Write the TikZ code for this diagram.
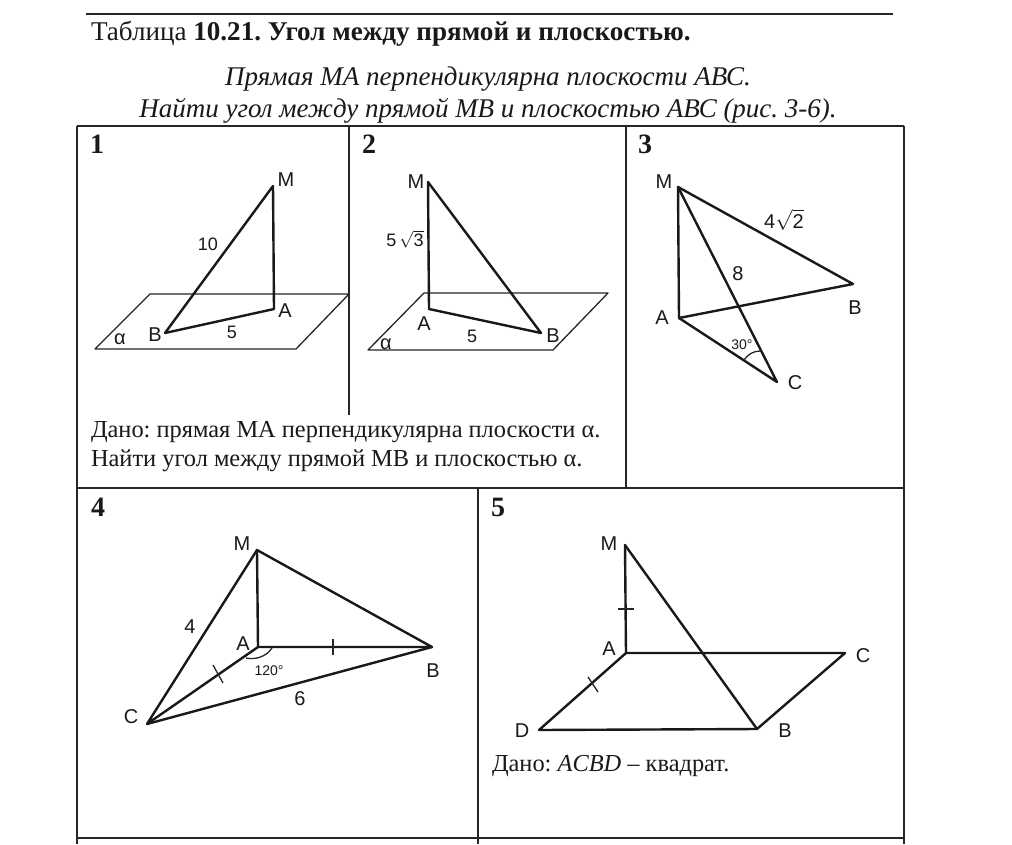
\documentclass[tikz,border=0pt]{standalone}
\usepackage{fontspec}
\setmainfont{Liberation Serif}
\newfontfamily\lblfont{Liberation Sans}
\newcommand{\fs}[1]{\fontsize{#1}{#1}\selectfont}
\frenchspacing
\tikzset{
  txt/.style={inner sep=0pt,outer sep=0pt,anchor=base west,text=black!90},
  ctr/.style={inner sep=0pt,outer sep=0pt,anchor=base,text=black!90},
  head/.style={txt,font=\fs{27.1}},
  ital/.style={ctr,font=\fs{27}\itshape},
  body/.style={txt,font=\fs{24.4}},
  num/.style={txt,font=\fs{28}\bfseries},
  lbl/.style={ctr,font=\lblfont\fs{20}},
  mid/.style={ctr,font=\lblfont\fs{18}},
  small/.style={ctr,font=\lblfont\fs{14}},
  frame/.style={draw=black!85,line width=1.6pt},
  edge/.style={draw=black!90,line width=2.4pt,line cap=round,line join=round},
  thin/.style={draw=black!85,line width=1.3pt,line join=round},
}
\begin{document}
\begin{tikzpicture}[x=1pt,y=-1pt]
\useasboundingbox (0,0) rectangle (1012,844);
\fill[white] (0,0) rectangle (1012,844);
% header
\coordinate (rl) at (86,14); \coordinate (rr) at (893,14);
\draw[frame] (rl) -- (rr);
\node[head] (title) at (91,40) {Таблица \textbf{10.21. Угол между прямой и плоскостью.}};
\node[ital] (sub1) at (488,85) {Прямая МА перпендикулярна плоскости АВС.};
\node[ital] (sub2) at (488,117) {Найти угол между прямой МВ и плоскостью АВС (рис. 3-6).};
% table
\coordinate (tl) at (77,126); \coordinate (tr) at (904,126);
\coordinate (ml) at (77,488); \coordinate (mr) at (904,488);
\coordinate (bl) at (77,838); \coordinate (br) at (904,838);
\coordinate (el) at (77,844); \coordinate (er) at (904,844);
\coordinate (v1t) at (349,126); \coordinate (v1b) at (349,415);
\coordinate (v2t) at (626,126); \coordinate (v2b) at (626,488);
\coordinate (v3t) at (478,488); \coordinate (v3b) at (478,844);
\draw[frame] (tl) -- (tr); \draw[frame] (ml) -- (mr); \draw[frame] (bl) -- (br);
\draw[frame] (tl) -- (el); \draw[frame] (tr) -- (er);
\draw[frame] (v1t) -- (v1b); \draw[frame] (v2t) -- (v2b); \draw[frame] (v3t) -- (v3b);
\node[num] (n1) at (90,153) {1};
\node[num] (n2) at (362,153) {2};
\node[num] (n3) at (638,153) {3};
\node[num] (n4) at (91,516) {4};
\node[num] (n5) at (491,516) {5};
% figure 1
\coordinate (p1a) at (150,294); \coordinate (p1b) at (349,294); \coordinate (p1c) at (296,349); \coordinate (p1d) at (95,349);
\draw[thin] (p1a) -- (p1b) -- (p1c) -- (p1d) -- cycle;
\coordinate (M1) at (273,186); \coordinate (A1) at (274,309); \coordinate (B1) at (165,333);
\draw[edge] (M1) -- (A1) -- (B1) -- cycle;
\node[lbl] (lM1) at (286,186) {M};
\node[lbl] (lA1) at (285,317) {A};
\node[lbl] (lB1) at (155,341) {B};
\node[mid] (l10) at (208,250) {10};
\node[mid] (l51) at (232,338) {5};
\node[lbl] (la1) at (120,344) {α};
% figure 2
\coordinate (p2a) at (424,293); \coordinate (p2b) at (608,293); \coordinate (p2c) at (553,350); \coordinate (p2d) at (368,350);
\draw[thin] (p2a) -- (p2b) -- (p2c) -- (p2d) -- cycle;
\coordinate (M2) at (428,182); \coordinate (A2) at (429,309); \coordinate (B2) at (541,333);
\draw[edge] (M2) -- (A2) -- (B2) -- cycle;
\node[lbl] (lM2) at (416,188) {M};
\node[lbl] (lA2) at (424,330) {A};
\node[lbl] (lB2) at (553,342) {B};
\node[mid] (l53) at (405,246) {5\,$\sqrt{\mbox{3}}$};
\node[mid] (l52) at (472,342) {5};
\node[lbl] (la2) at (386,349) {α};
\node[body] (d1) at (91,437) {Дано: прямая МА перпендикулярна плоскости α.};
\node[body] (d2) at (91,466) {Найти угол между прямой МВ и плоскостью α.};
% figure 3
\coordinate (M3) at (678,187); \coordinate (A3) at (679,318); \coordinate (B3) at (853,284); \coordinate (C3) at (777,382);
\draw[edge] (M3) -- (A3) -- (B3) -- cycle;
\draw[edge] (M3) -- (C3) -- (A3);
\coordinate (a3s) at (744,360); \coordinate (a3e) at (760,351);
\draw[thin] (a3s) .. controls (748,354) and (754,351) .. (a3e);
\node[lbl] (lM3) at (664,188) {M};
\node[lbl] (lA3) at (662,324) {A};
\node[lbl] (lB3) at (855,314) {B};
\node[lbl] (lC3) at (795,389) {C};
\node[lbl] (l8) at (738,280) {8};
\node[lbl] (l42) at (784,228) {4$\sqrt{\mbox{2}}$};
\node[small] (l30) at (742,349) {30°};
% figure 4
\coordinate (M4) at (257,550); \coordinate (A4) at (258,647); \coordinate (B4) at (432,647); \coordinate (C4) at (147,724);
\draw[edge] (M4) -- (A4) -- (B4) -- cycle;
\draw[edge] (M4) -- (C4) -- (A4);
\draw[edge] (C4) -- (B4);
\coordinate (t4a) at (333,639); \coordinate (t4b) at (333,655);
\coordinate (t4c) at (213,665); \coordinate (t4d) at (223,683);
\draw[thin] (t4a) -- (t4b); \draw[thin] (t4c) -- (t4d);
\coordinate (a4s) at (246,658); \coordinate (a4e) at (272,648);
\draw[thin] (a4s) .. controls (255,660) and (266,657) .. (a4e);
\node[lbl] (lM4) at (242,550) {M};
\node[lbl] (lA4) at (243,650) {A};
\node[lbl] (lB4) at (433,677) {B};
\node[lbl] (lC4) at (131,723) {C};
\node[lbl] (l4) at (190,633) {4};
\node[lbl] (l6) at (300,705) {6};
\node[small] (l120) at (269,675) {120°};
% figure 5
\coordinate (M5) at (625,545); \coordinate (A5) at (626,653); \coordinate (C5) at (845,653); \coordinate (B5) at (757,729); \coordinate (D5) at (539,730);
\draw[edge] (M5) -- (A5) -- (C5) -- (B5) -- (D5) -- (A5);
\draw[edge] (M5) -- (B5);
\coordinate (t5a) at (618,609); \coordinate (t5b) at (634,609);
\coordinate (t5c) at (588,677); \coordinate (t5d) at (598,692);
\draw[thin] (t5a) -- (t5b); \draw[thin] (t5c) -- (t5d);
\node[lbl] (lM5) at (609,550) {M};
\node[lbl] (lA5) at (609,655) {A};
\node[lbl] (lB5) at (785,737) {B};
\node[lbl] (lC5) at (863,662) {C};
\node[lbl] (lD5) at (522,737) {D};
\node[body] (d5) at (492,771) {Дано: \textit{ACBD} – квадрат.};
\end{tikzpicture}
\end{document}
